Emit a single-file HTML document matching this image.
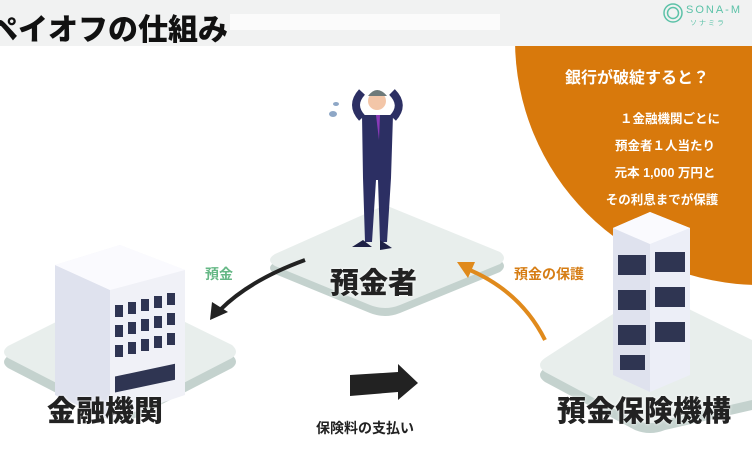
<!DOCTYPE html>
<html><head><meta charset="utf-8"><style>
body{margin:0;width:752px;height:465px;overflow:hidden;background:#fff;font-family:"Liberation Sans","Noto Sans CJK JP",sans-serif;position:relative}
.t{position:absolute;white-space:nowrap;font-family:"Liberation Sans","Noto Sans CJK JP",sans-serif}
</style></head><body>
<svg width="752" height="465" style="position:absolute;left:0;top:0">
<rect x="0" y="0" width="752" height="46" fill="#f1f2f2"/>
<polygon points="230,14 540,14 545,30 230,30" fill="#fbfbfb"/>
<circle cx="760" cy="40" r="245" fill="#d8790c"/>
<rect x="500" y="0" width="252" height="46" fill="#f1f2f2"/>
<circle cx="673" cy="13" r="9" fill="none" stroke="#5cc2a8" stroke-width="1.5"/>
<circle cx="673" cy="13" r="5.5" fill="none" stroke="#5cc2a8" stroke-width="1.5"/>
<g fill="#c4d2ce"><path d="M385,205 L500,252 Q508,258 500,264 L400,305 Q385,311 370,305 L275,266 Q265,260 275,254 Z" transform="translate(0,8)"/>
<path d="M120,290 L232,345 Q240,352 232,358 L135,408 Q120,415 105,408 L8,358 Q0,352 8,346 Z" transform="translate(0,10)"/>
<path d="M650,290 L752,340 L752,400 L665,420 Q650,426 635,420 L545,372 Q535,365 545,358 Z" transform="translate(0,10)"/></g>
<g fill="#e8eeec"><path d="M385,205 L500,252 Q508,258 500,264 L400,305 Q385,311 370,305 L275,266 Q265,260 275,254 Z"/>
<path d="M120,290 L232,345 Q240,352 232,358 L135,408 Q120,415 105,408 L8,358 Q0,352 8,346 Z"/>
<path d="M650,290 L752,340 L752,400 L665,420 Q650,426 635,420 L545,372 Q535,365 545,358 Z"/></g>
<g>
<path d="M362,118 Q350,105 362,92 M393,118 Q405,105 392,92" stroke="#2c2f63" stroke-width="8" fill="none"/>
<path d="M362,115 L393,115 L391,178 L387,242 L380,242 L378,180 L376,180 L372,242 L365,242 L363,178 Z" fill="#2c2f63"/>
<path d="M363,240 L352,247 L372,247 Z M380,240 L380,250 L392,248 Z" fill="#1e2146"/>
<circle cx="377" cy="101" r="9" fill="#f3c6a8"/>
<path d="M368,96 Q377,84 387,96 Z" fill="#6e7a7a"/>
<path d="M376,115 L380,115 L379,140 Z" fill="#8a3ab8"/>
<ellipse cx="336" cy="104" rx="3" ry="2" fill="#8ea7c6"/>
<ellipse cx="333" cy="114" rx="4" ry="3" fill="#8ea7c6"/>
</g>
<polygon points="55,265 120,245 185,270 185,395 110,420 55,395" fill="#f0f1f7"/>
<polygon points="55,265 110,290 110,420 55,395" fill="#dfe2ee"/>
<polygon points="55,265 120,245 185,270 110,290" fill="#fafafe"/>
<g fill="#2f3552"><rect x="115" y="305" width="8" height="12"/><rect x="128" y="302" width="8" height="12"/><rect x="141" y="299" width="8" height="12"/><rect x="154" y="296" width="8" height="12"/><rect x="167" y="293" width="8" height="12"/>
<rect x="115" y="325" width="8" height="12"/><rect x="128" y="322" width="8" height="12"/><rect x="141" y="319" width="8" height="12"/><rect x="154" y="316" width="8" height="12"/><rect x="167" y="313" width="8" height="12"/>
<rect x="115" y="345" width="8" height="12"/><rect x="128" y="342" width="8" height="12"/><rect x="141" y="339" width="8" height="12"/><rect x="154" y="336" width="8" height="12"/><rect x="167" y="333" width="8" height="12"/>
<rect x="115" y="368" width="60" height="16" transform="skewY(-12) translate(0,33)"/></g>
<polygon points="613,228 650,212 690,228 690,375 650,392 613,375" fill="#eceef7"/>
<polygon points="613,228 650,244 650,392 613,375" fill="#dfe2ee"/>
<polygon points="613,228 650,212 690,228 650,244" fill="#fafafe"/>
<g fill="#2f3552"><rect x="618" y="255" width="28" height="20"/><rect x="655" y="252" width="30" height="20"/><rect x="618" y="290" width="28" height="20"/><rect x="655" y="287" width="30" height="20"/><rect x="618" y="325" width="28" height="20"/><rect x="655" y="322" width="30" height="20"/><rect x="620" y="355" width="25" height="15"/></g>
<path d="M305,260 Q250,280 220,310" stroke="#222" stroke-width="4" fill="none"/>
<polygon points="210,320 212,302 228,312" fill="#222"/>
<path d="M545,340 Q520,290 465,268" stroke="#e08a1c" stroke-width="4" fill="none"/>
<polygon points="457,262 475,262 468,278" fill="#e08a1c"/>
<polygon points="350,375 398,372 398,364 418,383 398,400 398,392 350,396" fill="#222"/>
</svg>
<div class="t" style="left:-12px;top:5px;font-size:30px;font-weight:900;color:#111">ペイオフの仕組み</div>
<div class="t" style="left:686px;top:4px;font-size:11px;color:#5cc2a8;letter-spacing:2px">SONA-M</div>
<div class="t" style="left:690px;top:18px;font-size:7px;color:#5cc2a8;letter-spacing:2px">ソナミラ</div>
<div class="t" style="left:565px;top:64px;font-size:16px;font-weight:bold;color:#fff">銀行が破綻すると？</div>
<div class="t" style="left:610px;top:106px;font-size:12.5px;color:#fff;line-height:27px;text-align:center;font-weight:bold">
<div style="padding-left:10px">１金融機関ごとに</div><div>預金者１人当たり</div><div>元本 1,000 万円と</div><div style="margin-left:-6px">その利息までが保護</div></div>
<div class="t" style="left:330px;top:260px;font-size:29px;font-weight:900;color:#222;text-shadow:0 0 3px #fff">預金者</div>
<div class="t" style="left:205px;top:264px;font-size:14px;font-weight:bold;color:#66b886">預金</div>
<div class="t" style="left:514px;top:264px;font-size:14px;font-weight:bold;color:#d67d14">預金の保護</div>
<div class="t" style="left:47px;top:388px;font-size:29px;font-weight:900;color:#222;text-shadow:0 0 3px #fff">金融機関</div>
<div class="t" style="left:557px;top:388px;font-size:29px;font-weight:900;color:#222;text-shadow:0 0 3px #fff">預金保険機構</div>
<div class="t" style="left:316px;top:418px;font-size:14px;font-weight:bold;color:#222">保険料の支払い</div>
</body></html>
